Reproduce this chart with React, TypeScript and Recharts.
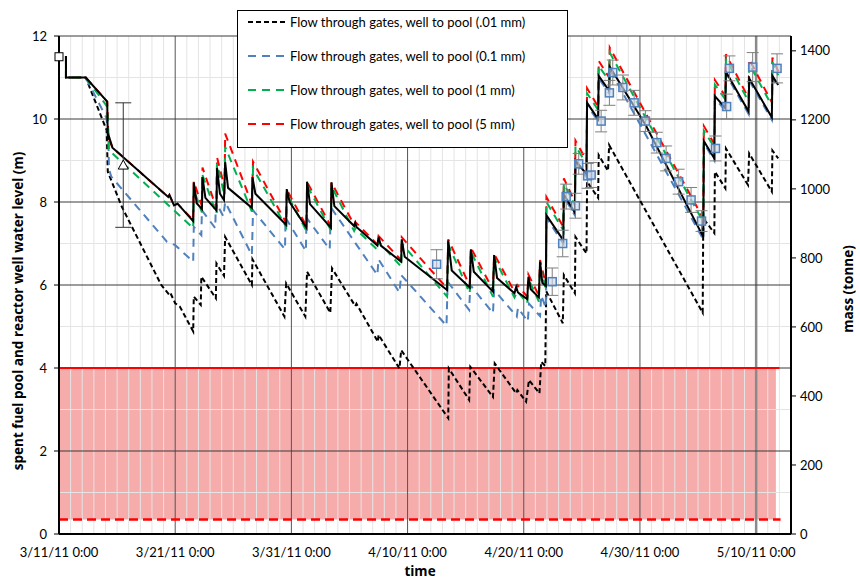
import React from "react";
import { ComposedChart, Line, Scatter, ErrorBar, XAxis, YAxis, ReferenceLine, ReferenceArea } from "recharts";

// x values are days since 3/11/11 0:00, y values are water level (m)
const dayTicks = [0, 10, 20, 30, 40, 50, 60];
const dayLabels = ["3/11/11 0:00", "3/21/11 0:00", "3/31/11 0:00", "4/10/11 0:00", "4/20/11 0:00", "4/30/11 0:00", "5/10/11 0:00"];
const levelTicks = [0, 2, 4, 6, 8, 10, 12];
const massTicks = [0, 200, 400, 600, 800, 1000, 1200, 1400];

const baseLevel: [number, number][] = [
  [0.6, 11.52], [0.6, 11.0], [2.3, 11.0], [4.15, 10.42], [4.2, 9.5], [4.3, 9.58], [4.6, 9.31], [9.4, 8.12], [9.5, 8.17],
  [9.9, 7.92], [10.2, 7.96], [11.55, 7.54], [11.6, 8.47], [11.85, 7.97], [12.3, 7.83], [12.35, 8.6], [12.6, 8.1],
  [13.55, 7.8], [13.6, 8.82], [13.85, 8.2], [14.2, 8.05], [14.3, 8.96], [14.55, 8.34], [16.6, 7.86], [16.65, 8.6],
  [16.9, 8.2], [19.55, 7.45], [19.6, 8.31], [19.85, 8.0], [21.3, 7.38], [21.35, 8.49], [21.6, 7.95], [23.4, 7.38],
  [23.45, 8.47], [23.7, 7.9], [25.4, 7.42], [25.5, 7.5], [25.6, 7.4], [27.4, 6.95], [27.5, 7.16], [27.7, 6.95],
  [29.45, 6.56], [29.5, 7.1], [29.75, 6.68], [33.4, 5.88], [33.5, 7.07], [33.8, 6.35], [35.35, 5.94], [35.45, 6.86],
  [35.7, 6.32], [37.35, 5.84], [37.45, 6.72], [37.7, 6.17], [39.2, 5.8], [39.35, 5.95], [39.5, 5.82], [40.3, 5.66],
  [40.4, 6.2], [40.6, 5.9], [41.3, 5.7], [41.4, 6.56], [41.6, 6.05], [41.9, 5.98], [41.95, 7.68], [43.4, 7.08],
  [43.45, 8.18], [44.4, 7.74], [44.45, 9.0], [45.4, 8.67], [45.45, 10.39], [46.4, 10.0], [46.45, 11.04], [47.35, 10.68],
  [47.4, 11.26], [50.5, 9.85], [55.45, 7.16], [55.5, 9.47], [56.4, 9.05], [56.45, 10.55], [57.35, 10.26], [57.4, 11.14],
  [59.35, 10.18], [59.4, 10.98], [61.35, 10.04], [61.4, 11.04], [61.9, 10.82],
];

const gap001: [number, number][] = [
  [0.6, 11.52], [0.6, 11.0], [2.3, 11.0], [4.1, 9.73], [4.2, 8.73], [5.4, 7.89], [8.8, 6.0], [9.5, 5.76], [9.6, 5.8],
  [10.0, 5.56], [10.4, 5.48], [11.55, 4.88], [11.6, 5.72], [12.2, 5.52], [12.25, 6.2], [13.5, 5.68], [13.55, 6.52],
  [14.2, 6.22], [14.3, 7.16], [16.6, 6.0], [16.65, 6.62], [19.4, 5.24], [19.55, 6.04], [21.2, 5.24], [21.35, 6.32],
  [23.35, 5.33], [23.5, 6.4], [25.5, 5.49], [25.6, 5.55], [27.45, 4.63], [27.5, 4.8], [29.3, 3.99], [29.45, 4.43],
  [33.5, 2.79], [33.55, 3.99], [35.3, 3.23], [35.4, 4.03], [37.35, 3.3], [37.5, 4.11], [39.35, 3.39], [39.45, 3.47],
  [40.2, 3.19], [40.45, 3.71], [41.35, 3.39], [41.5, 4.15], [41.85, 4.05], [41.93, 5.85], [43.36, 5.08], [43.45, 6.24],
  [44.4, 5.8], [44.45, 7.16], [45.4, 6.76], [45.45, 8.49], [46.4, 8.1], [46.45, 9.13], [47.25, 8.75], [47.35, 9.37],
  [55.4, 5.33], [55.45, 7.61], [56.4, 7.25], [56.45, 8.73], [57.35, 8.33], [57.4, 9.29], [59.3, 8.41], [59.4, 9.17],
  [61.35, 8.25], [61.4, 9.24], [61.9, 9.05],
];

const gap01: [number, number][] = [
  [0.6, 11.52], [0.6, 11.0], [2.3, 11.0], [4.1, 10.02], [4.25, 9.55], [4.3, 8.8], [4.5, 8.61], [9.3, 7.04], [10.0, 6.96],
  [11.55, 6.56], [11.6, 7.4], [12.25, 7.2], [12.3, 7.8], [13.45, 7.37], [13.5, 8.0], [14.15, 7.65], [14.3, 8.0],
  [16.6, 6.72], [16.7, 7.8], [19.45, 6.86], [19.5, 7.62], [21.25, 6.82], [21.3, 7.62], [23.3, 6.86], [23.4, 7.87],
  [27.4, 6.24], [27.5, 6.62], [29.3, 5.82], [29.45, 6.24], [33.35, 5.02], [33.45, 6.08], [35.3, 5.4], [35.4, 6.0],
  [37.35, 5.32], [37.45, 5.88], [39.4, 5.24], [39.5, 5.45], [40.35, 5.12], [40.45, 5.55], [41.4, 5.25], [41.5, 5.75],
  [41.9, 5.45], [41.95, 7.62], [43.4, 7.0], [43.45, 8.12], [44.4, 7.68], [44.45, 8.95], [45.4, 8.6], [45.45, 10.33],
  [46.4, 9.95], [46.45, 10.98], [47.35, 10.62], [47.4, 11.2], [55.45, 7.1], [55.5, 9.42], [56.4, 9.0], [56.45, 10.5],
  [57.35, 10.2], [57.4, 11.08], [59.35, 10.12], [59.4, 10.93], [61.35, 9.98], [61.4, 10.98], [61.9, 10.76],
];

const gap1: [number, number][] = [
  [0.6, 11.52], [0.6, 11.0], [2.3, 11.0], [4.15, 10.3], [4.3, 9.25], [11.55, 7.37], [11.6, 8.3], [12.3, 7.75],
  [12.35, 8.65], [13.55, 7.72], [13.6, 8.93], [14.25, 8.15], [14.3, 9.33], [16.6, 7.77], [16.7, 8.81], [19.55, 7.4],
  [19.6, 8.2], [21.3, 7.3], [21.35, 8.4], [23.4, 7.32], [23.45, 8.38], [25.4, 7.3], [25.5, 7.36], [27.4, 6.85],
  [27.5, 7.05], [29.45, 6.44], [29.5, 7.0], [33.4, 5.72], [33.5, 6.98], [35.35, 5.8], [35.45, 6.8], [37.35, 5.72],
  [37.45, 6.65], [39.2, 5.7], [39.45, 5.85], [40.3, 5.56], [40.4, 6.15], [41.3, 5.6], [41.4, 6.45], [41.9, 5.9],
  [41.95, 8.0], [43.4, 7.32], [43.45, 8.45], [44.4, 7.92], [44.45, 9.35], [45.4, 8.92], [45.45, 10.62], [46.4, 10.22],
  [46.45, 11.28], [47.35, 10.92], [47.4, 11.6], [55.45, 7.52], [55.5, 9.72], [56.4, 9.32], [56.45, 10.83],
  [57.35, 10.47], [57.4, 11.45], [59.35, 10.42], [59.4, 11.33], [61.35, 10.32], [61.4, 11.37], [61.9, 11.05],
];

const gap5: [number, number][] = [
  [0.6, 11.52], [0.6, 11.0], [2.3, 11.0], [4.15, 10.42], [4.25, 9.55], [4.6, 9.31], [9.4, 8.12], [9.5, 8.17],
  [9.9, 7.92], [10.2, 7.96], [11.55, 7.56], [11.6, 8.5], [12.3, 7.9], [12.35, 8.83], [13.55, 7.85], [13.6, 9.08],
  [14.25, 8.35], [14.3, 9.65], [16.6, 7.95], [16.7, 8.97], [19.55, 7.5], [19.6, 8.3], [21.3, 7.42], [21.35, 8.48],
  [23.4, 7.42], [23.45, 8.47], [25.4, 7.45], [25.5, 7.52], [27.4, 6.98], [27.5, 7.18], [29.45, 6.6], [29.5, 7.15],
  [33.4, 5.92], [33.5, 7.1], [35.35, 5.98], [35.45, 6.9], [37.35, 5.88], [37.45, 6.75], [39.2, 5.84], [39.45, 6.0],
  [40.3, 5.72], [40.4, 6.25], [41.3, 5.75], [41.4, 6.6], [41.9, 6.02], [41.95, 8.12], [43.4, 7.4], [43.45, 8.57],
  [44.4, 8.0], [44.45, 9.48], [45.4, 9.0], [45.45, 10.74], [46.4, 10.3], [46.45, 11.4], [47.35, 11.0], [47.4, 11.72],
  [55.45, 7.6], [55.5, 9.83], [56.4, 9.4], [56.45, 10.94], [57.35, 10.55], [57.4, 11.56], [59.35, 10.5], [59.4, 11.44],
  [61.35, 10.4], [61.4, 11.48], [61.9, 11.15],
];

// measured levels [day, level, error]
const measured: [number, number, number][] = [
  [32.5, 6.5, 0.35], [42.45, 6.08, 0.33], [43.35, 7.0, 0.32], [43.65, 8.13, 0.3], [44.45, 7.91, 0.3], [44.73, 8.92, 0.25],
  [45.5, 8.63, 0.3], [45.8, 8.65, 0.3], [46.66, 9.95, 0.26], [47.37, 10.63, 0.3], [47.66, 11.12, 0.3], [48.53, 10.76, 0.3],
  [49.5, 10.39, 0.3], [50.47, 9.95, 0.25], [51.45, 9.43, 0.25], [52.25, 9.05, 0.3], [53.33, 8.49, 0.3], [54.4, 8.05, 0.3],
  [55.3, 7.54, 0.25], [56.5, 9.29, 0.3], [57.46, 10.3, 0.3], [57.7, 11.22, 0.3], [59.7, 11.25, 0.35], [61.8, 11.22, 0.35],
];
const initialLevel: [number, number][] = [[0, 11.5]];
const earlyEstimate: [number, number, number][] = [[5.53, 8.89, 1.5]];

// red band: lower limit line and top of band
const bandTop = 4;
const bandBottom = 0.35;
const bandEnd = 61.7;

const toRows = (pts: [number, number][]) => pts.map(([t, v]) => ({ t, v }));
const toErrRows = (pts: [number, number, number][]) => pts.map(([t, v, err]) => ({ t, v, err }));

const series = [
  { name: "Flow through gates, well to pool (.01 mm)", pts: gap001, color: "#000000", dash: "5 3" },
  { name: "Flow through gates, well to pool (0.1 mm)", pts: gap01, color: "#4f81bd", dash: "8 6" },
  { name: "Flow through gates, well to pool (5 mm)", pts: gap5, color: "#ff0000", dash: "8 6" },
  { name: "Flow through gates, well to pool (1 mm)", pts: gap1, color: "#00b050", dash: "8 6" },
];
const legendOrder = [0, 1, 3, 2];

const minorDays = Array.from({ length: 63 }, (_, i) => i).filter((d) => d % 10 !== 0);
const minorLevels = [1, 3, 5, 7, 9, 11];
const font = "Lato, 'Open Sans', sans-serif";
const titleFont = "'Open Sans', Lato, sans-serif";

function Square(props: any) {
  const { cx, cy } = props;
  return <rect x={cx - 4} y={cy - 4} width={8} height={8} fill="#c9d6e8" fillOpacity={0.6} stroke="#4f81bd" strokeWidth={1.5} />;
}
function OpenSquare(props: any) {
  const { cx, cy } = props;
  return <rect x={cx - 4} y={cy - 4} width={8} height={8} fill="#fff" stroke="#000" strokeWidth={1} />;
}
function Triangle(props: any) {
  const { cx, cy } = props;
  return <path d={`M${cx},${cy - 5} L${cx + 5},${cy + 4} L${cx - 5},${cy + 4} Z`} fill="#fff" stroke="#000" strokeWidth={1} />;
}

function LegendBox() {
  return (
    <div style={{ position: "absolute", left: 237, top: 10, width: 329, height: 136, background: "#fff", border: "1px solid #000", fontFamily: font, fontSize: 13 }}>
      {legendOrder.map((idx, i) => {
        const s = series[idx];
        return (
          <div key={s.name} style={{ position: "absolute", left: 10, top: 1 + i * 34, height: 20, display: "flex", alignItems: "center", whiteSpace: "nowrap" }}>
            <svg width={40} height={6} style={{ marginRight: 2 }}>
              <line x1={0} y1={3} x2={40} y2={3} stroke={s.color} strokeWidth={2} strokeDasharray={s.dash} />
            </svg>
            <span>{s.name}</span>
          </div>
        );
      })}
    </div>
  );
}

export default function App() {
  return (
    <div style={{ position: "absolute", left: 0, top: 0, width: 860, height: 580, background: "#fff", fontFamily: font }}>
      <ComposedChart width={860} height={580} margin={{ top: 36, right: 0, bottom: 0, left: 0 }}>
        <XAxis
          dataKey="t"
          type="number"
          domain={[0, 63]}
          ticks={dayTicks}
          interval={0}
          tickFormatter={(v: number) => dayLabels[dayTicks.indexOf(v)]}
          height={46}
          tickLine={false}
          tickMargin={8}
          axisLine={{ stroke: "#000", strokeWidth: 2 }}
          tick={{ fill: "#000", fontSize: 13, fontFamily: font }}
        />
        <YAxis
          type="number"
          domain={[0, 12]}
          ticks={levelTicks}
          interval={0}
          width={59}
          tickSize={5}
          tickMargin={7}
          axisLine={{ stroke: "#000", strokeWidth: 2 }}
          tickLine={{ stroke: "#000" }}
          tick={{ fill: "#000", fontSize: 13, fontFamily: font }}
        />
        <YAxis
          yAxisId="mass"
          orientation="right"
          type="number"
          domain={[0, 1443]}
          allowDataOverflow
          ticks={massTicks}
          interval={0}
          width={69}
          tickSize={5}
          tickMargin={4}
          axisLine={{ stroke: "#000", strokeWidth: 2 }}
          tickLine={{ stroke: "#000" }}
          tick={{ fill: "#000", fontSize: 13, fontFamily: font }}
        />
        {minorDays.map((d) => (
          <ReferenceLine key={"vd" + d} x={d} stroke="#e4e4e4" strokeWidth={1} />
        ))}
        {minorLevels.map((m) => (
          <ReferenceLine key={"hm" + m} y={m} stroke="#e4e4e4" strokeWidth={1} />
        ))}
        {dayTicks.slice(1).map((d) => (
          <ReferenceLine key={"vD" + d} x={d} stroke={d === 60 ? "#8a8a8a" : "#555"} strokeWidth={d === 60 ? 2.5 : 1} />
        ))}
        {levelTicks.slice(1).map((m) => (
          <ReferenceLine key={"hM" + m} y={m} stroke="#3a3a3a" strokeWidth={1} />
        ))}
        <ReferenceArea x1={0} x2={bandEnd} y1={bandBottom} y2={bandTop} fill="#f06868" fillOpacity={0.55} stroke="none" />
        <ReferenceLine segment={[{ x: 0, y: bandTop }, { x: 62, y: bandTop }]} stroke="#ff0000" strokeWidth={2} />
        <ReferenceLine segment={[{ x: 0, y: bandBottom }, { x: 62.1, y: bandBottom }]} stroke="#ff0000" strokeWidth={2.5} strokeDasharray="9 5" />

        {series.map((s) => (
          <Line
            key={s.name}
            data={toRows(s.pts)}
            dataKey="v"
            name={s.name}
            type="linear"
            stroke={s.color}
            strokeWidth={2}
            strokeDasharray={s.dash}
            dot={false}
            activeDot={false}
            isAnimationActive={false}
          />
        ))}
        <Line data={toRows(baseLevel)} dataKey="v" type="linear" stroke="#000" strokeWidth={2} dot={false} activeDot={false} isAnimationActive={false} />

        <Scatter data={toErrRows(measured)} dataKey="v" shape={<Square />} isAnimationActive={false}>
          <ErrorBar dataKey="err" direction="y" width={6} stroke="#7f7f7f" strokeWidth={1} />
        </Scatter>
        <Scatter data={toErrRows(earlyEstimate)} dataKey="v" shape={<Triangle />} isAnimationActive={false}>
          <ErrorBar dataKey="err" direction="y" width={8} stroke="#333" strokeWidth={1} />
        </Scatter>
        <Scatter data={toRows(initialLevel)} dataKey="v" shape={<OpenSquare />} isAnimationActive={false} />
      </ComposedChart>

      <LegendBox />
      <div style={{ position: "absolute", left: 18, top: 311, transform: "translate(-50%, -50%) rotate(-90deg)", whiteSpace: "nowrap", fontWeight: 700, fontSize: 13.5, fontFamily: titleFont }}>
        spent fuel pool and reactor well water level (m)
      </div>
      <div style={{ position: "absolute", left: 848, top: 289, transform: "translate(-50%, -50%) rotate(-90deg)", whiteSpace: "nowrap", fontWeight: 700, fontSize: 13.5, fontFamily: titleFont }}>
        mass (tonne)
      </div>
      <div style={{ position: "absolute", left: 420, top: 571, transform: "translate(-50%, -50%)", fontWeight: 700, fontSize: 13.5, fontFamily: titleFont }}>time</div>
    </div>
  );
}
